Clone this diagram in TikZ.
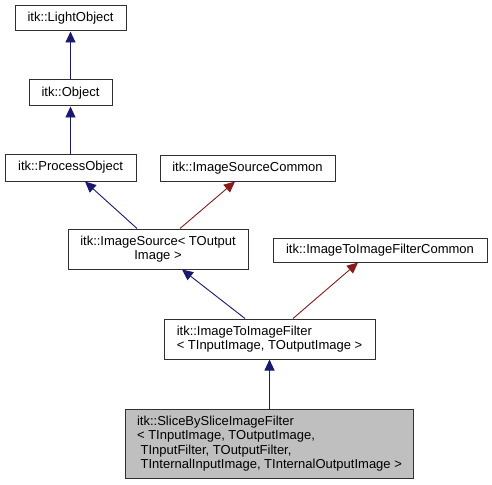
\documentclass[tikz,border=0pt]{standalone}
\usepackage{fontspec}
\setmainfont{Liberation Sans}
\usetikzlibrary{arrows.meta}
\definecolor{edgeblue}{HTML}{191970}
\definecolor{edgered}{HTML}{8B1A1A}
\definecolor{boxgrey}{HTML}{BFBFBF}
\definecolor{boxline}{HTML}{303030}
\tikzset{
  cls/.style={draw=boxline, line width=1pt, fill=white, inner sep=0pt, align=center,
    font=\fontsize{13}{14.3}\selectfont},
  clsl/.style={cls, align=left},
  pub/.style={draw=edgeblue, line width=0.9pt, -{Triangle[length=11pt,width=10pt]}},
  prot/.style={draw=edgered, line width=0.9pt, -{Triangle[length=11pt,width=10pt]}},
}
\begin{document}
\begin{tikzpicture}[x=1pt,y=-1pt]
\useasboundingbox (0,0) rectangle (492,484);
\node[cls, minimum width=111pt, minimum height=25pt] (light) at (70.5,18.5) {itk::LightObject};
\node[cls, minimum width=83pt, minimum height=26pt] (obj) at (70.5,93) {itk::Object};
\node[cls, minimum width=131pt, minimum height=27pt] (proc) at (70.5,167.5) {itk::ProcessObject};
\node[cls, minimum width=175pt, minimum height=26pt] (isc) at (247.5,168) {itk::ImageSourceCommon};
\node[cls, minimum width=180pt, minimum height=40pt] (isrc) at (158,249) {itk::ImageSource\textless{} TOutput\\Image \textgreater};
\node[cls, minimum width=214pt, minimum height=24pt] (i2ic) at (380,250) {itk::ImageToImageFilterCommon};
\node[clsl, minimum width=211pt, minimum height=40pt] (i2i) at (269.5,339) {itk::ImageToImageFilter\\\textless{} TInputImage, TOutputImage \textgreater};
\node[clsl, fill=boxgrey, minimum width=288pt, minimum height=69pt] (slice) at (269.5,443.5) {itk::SliceBySliceImageFilter\\\textless{} TInputImage, TOutputImage,\\\ TInputFilter, TOutputFilter,\\\ TInternalInputImage, TInternalOutputImage \textgreater};

\draw[pub] (obj.north) -- (light.south);
\draw[pub] (proc.north) -- (obj.south);
\draw[pub] ([xshift=-21pt]isrc.north) -- ([xshift=14.5pt]proc.south);
\draw[prot] ([xshift=22pt]isrc.north) -- ([xshift=-12.5pt]isc.south);
\draw[pub] ([xshift=-24.5pt]i2i.north) -- ([xshift=24pt]isrc.south);
\draw[prot] ([xshift=23.5pt]i2i.north) -- ([xshift=-22pt]i2ic.south);
\draw[pub] (slice.north) -- (i2i.south);
\end{tikzpicture}
\end{document}
